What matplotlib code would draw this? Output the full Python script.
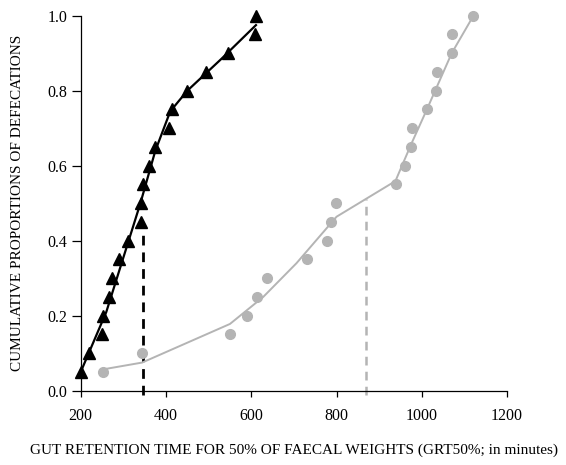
import matplotlib
matplotlib.use("Agg")
import matplotlib.pyplot as plt

plt.rcParams['font.family'] = ['Liberation Serif', 'DejaVu Serif']

# Black triangles (fast group)
tri_x = [200, 220, 251, 252, 266, 274, 289, 312, 342, 341, 347, 361, 374, 407, 413, 449, 493, 545, 608, 611]
tri_y = [0.05, 0.10, 0.15, 0.20, 0.25, 0.30, 0.35, 0.40, 0.45, 0.50, 0.55, 0.60, 0.65, 0.70, 0.75, 0.80, 0.85, 0.90, 0.95, 1.00]
tri_fit_x = [200, 260, 340, 375, 410, 450, 530, 611]
tri_fit_y = [0.05, 0.21, 0.50, 0.64, 0.745, 0.80, 0.885, 0.975]

# Gray circles (slow group)
circ_x = [253, 344, 550, 589, 613, 636, 730, 777, 787, 799, 939, 960, 975, 977, 1012, 1033, 1036, 1070, 1070, 1121]
circ_y = [0.05, 0.10, 0.15, 0.20, 0.25, 0.30, 0.35, 0.40, 0.45, 0.50, 0.55, 0.60, 0.65, 0.70, 0.75, 0.80, 0.85, 0.90, 0.95, 1.00]
circ_fit_x = [253, 344, 550, 628, 706, 800, 938, 976, 1011, 1070, 1121]
circ_fit_y = [0.057, 0.075, 0.178, 0.25, 0.34, 0.464, 0.559, 0.66, 0.748, 0.90, 1.0]

# GRT50% markers
grt_black_x, grt_black_top = 345, 0.42
grt_gray_x, grt_gray_top = 870, 0.51

x_ticks = [200, 400, 600, 800, 1000, 1200]
y_ticks = [0.0, 0.2, 0.4, 0.6, 0.8, 1.0]

black = '#000000'
gray = '#b4b4b4'

fig = plt.figure(figsize=(5.66, 4.65), dpi=100)
ax = fig.add_axes([0.1426, 0.1598, 0.7534, 0.8064])

ax.plot(tri_fit_x, tri_fit_y, color=black, lw=1.6, zorder=3, clip_on=False)
ax.plot(tri_x, tri_y, linestyle='none', marker='^', ms=8.5, color=black, zorder=4, clip_on=False)

ax.plot(circ_fit_x, circ_fit_y, color=gray, lw=1.4, zorder=3, clip_on=False)
ax.plot(circ_x, circ_y, linestyle='none', marker='o', ms=7, color=gray, mec=gray, zorder=4, clip_on=False)

ax.plot([grt_black_x, grt_black_x], [-0.012, grt_black_top], color=black, lw=2.0,
        linestyle=(0, (3.5, 2.5)), zorder=2, clip_on=False)
ax.plot([grt_gray_x, grt_gray_x], [-0.012, grt_gray_top], color=gray, lw=1.8,
        linestyle=(0, (3.5, 2.5)), zorder=2, clip_on=False)

ax.set_xlim(200, 1200)
ax.set_ylim(0, 1)
ax.set_xticks(x_ticks)
ax.set_yticks(y_ticks)
ax.set_yticklabels([f"{v:.1f}" for v in y_ticks])
ax.spines['top'].set_visible(False)
ax.spines['right'].set_visible(False)
for s in ['left', 'bottom']:
    ax.spines[s].set_linewidth(0.9)
ax.tick_params(axis='both', direction='out', width=0.9, labelsize=11.5, colors='black')
ax.tick_params(axis='x', length=4.5, pad=8)
ax.tick_params(axis='y', length=6.5, pad=3)

ax.set_xlabel("GUT RETENTION TIME FOR 50% OF FAECAL WEIGHTS (GRT50%; in minutes)", fontsize=11, labelpad=14)
ax.set_ylabel("CUMULATIVE PROPORTIONS OF DEFECATIONS", fontsize=11, labelpad=17)

fig.savefig("out.png", dpi=100)
